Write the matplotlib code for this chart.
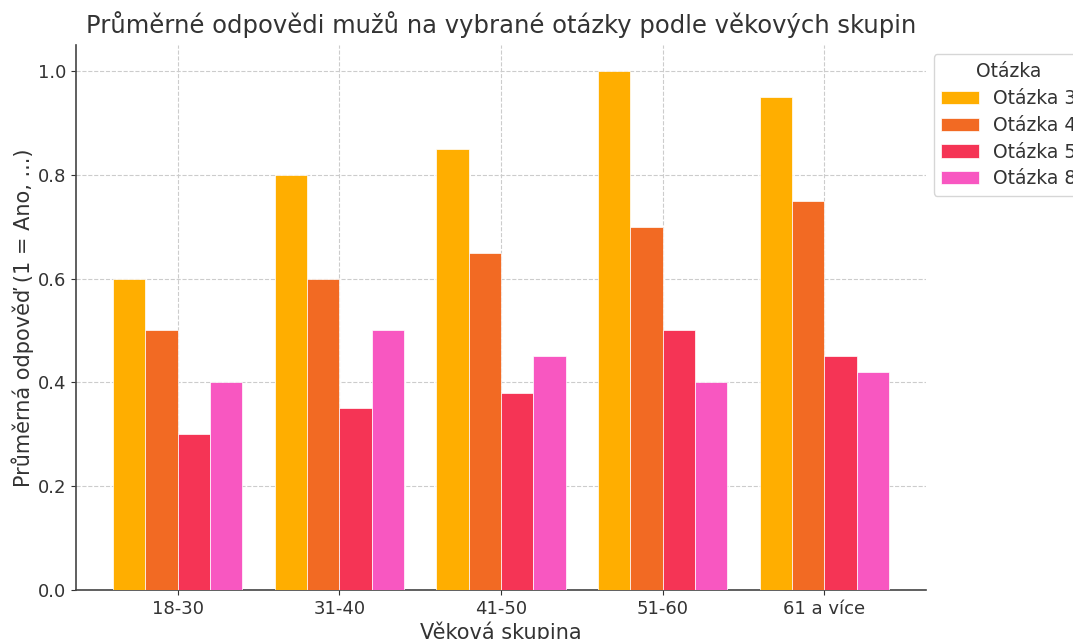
import matplotlib
matplotlib.use("Agg")
import matplotlib.pyplot as plt
import numpy as np

categories = ["18-30", "31-40", "41-50", "51-60", "61 a více"]
series_names = ["Otázka 3", "Otázka 4", "Otázka 5", "Otázka 8"]
q3 = [0.60, 0.80, 0.85, 1.00, 0.95]
q4 = [0.50, 0.60, 0.65, 0.70, 0.75]
q5 = [0.30, 0.35, 0.38, 0.50, 0.45]
q8 = [0.40, 0.50, 0.45, 0.40, 0.42]
colors = ["#ffae00", "#f26a23", "#f53455", "#f857c1"]

plt.rcParams['font.family'] = ['DejaVu Sans']
text_color = "#333333"

fig = plt.figure(figsize=(10.73, 6.39), dpi=100)
ax = fig.add_axes([76/1073, 1 - 590/639, (926-76)/1073, (590-45)/639])

x = np.arange(len(categories))
width = 0.2
for i, (vals, name, c) in enumerate(zip([q3, q4, q5, q8], series_names, colors)):
    ax.bar(x + (i - 1.5) * width, vals, width, label=name, color=c,
           edgecolor="white", linewidth=0.5, zorder=3)

ax.set_xticks(x)
ax.set_xticklabels(categories)
ax.set_ylim(0, 1.05)
ax.set_xlim(-0.63, 4.63)
ax.set_yticks([0.0, 0.2, 0.4, 0.6, 0.8, 1.0])
ax.grid(True, linestyle="--", color="#cccccc", linewidth=0.8, zorder=0)
ax.spines['top'].set_visible(False)
ax.spines['right'].set_visible(False)
for s in ['left', 'bottom']:
    ax.spines[s].set_color("#444444")
    ax.spines[s].set_linewidth(1.2)
ax.tick_params(colors=text_color, labelsize=13)
ax.set_title("Průměrné odpovědi mužů na vybrané otázky podle věkových skupin",
             fontsize=17.5, color=text_color, pad=9)
ax.set_xlabel("Věková skupina", fontsize=15, color=text_color, labelpad=3)
ax.set_ylabel("Průměrná odpověď (1 = Ano, ...)", fontsize=15, color=text_color, labelpad=3)
leg = ax.legend(title="Otázka", loc="upper left", bbox_to_anchor=(0.998, 1.0),
                fontsize=13.5, title_fontsize=13.5, frameon=True, labelspacing=0.42,
                handletextpad=0.75)
for t in leg.get_texts():
    t.set_color(text_color)
leg.get_title().set_color(text_color)

fig.savefig("out.png", dpi=100)
